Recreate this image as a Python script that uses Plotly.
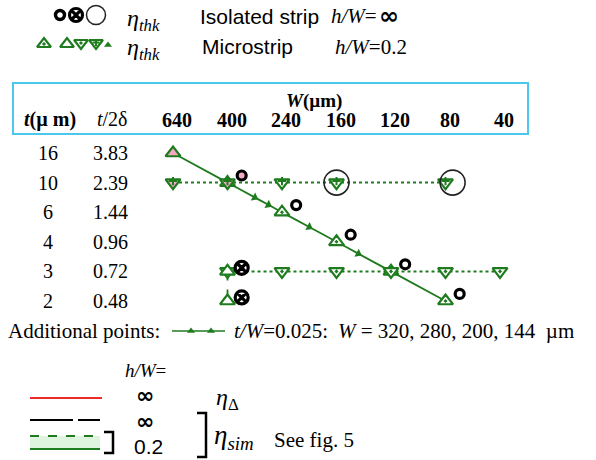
import numpy as np
import plotly.graph_objects as go

# ---------------- data ----------------
W_cols = [640, 400, 240, 160, 120, 80, 40]          # column headers W (um)
t_rows = [16, 10, 6, 4, 3, 2]                        # row headers t (um)
t_over_2delta = ["3.83", "2.39", "1.44", "0.96", "0.72", "0.48"]

# Microstrip h/W=0.2, path with t/W = 0.025 (main + additional points)
tw_W = [640, 400, 320, 280, 240, 200, 160, 144, 120, 80]
tw_t = [16, 10, 8, 7, 6, 5, 4, 3.6, 3, 2]
tw_additional_W = [320, 280, 200, 144]
tw_pink_W = [640, 400]

# Microstrip, row t = 10 (dotted)
row10_W = [640, 400, 240, 160, 80]
row10_t = [10, 10, 10, 10, 10]
# Microstrip, row t = 3 (dotted)
row3_W = [400, 240, 160, 120, 80, 40]
row3_t = [3, 3, 3, 3, 3, 3]
# Microstrip, column W = 400 (dashed)
col400_W = [400, 400]
col400_t = [3, 2]

# Isolated strip h/W = inf
iso_thick_W = [400, 240, 160, 120, 80]
iso_thick_t = [10, 6, 4, 3, 2]
iso_cross_W = [400, 400]
iso_cross_t = [3, 2]
iso_big_W = [160, 80]
iso_big_t = [10, 10]

# ---------------- layout constants ----------------
FIG_W, FIG_H = 596, 460
PX_COL0, PX_COLSTEP = 173, 54.5
PX_ROW0, PX_ROWSTEP = 153, 29.6
ISO_DX, ISO_DY = 0.26, -0.24
GREEN = "#1e7b1e"
PINK = "#f5a9c4"
SERIF = "Liberation Serif"
SANS = "Liberation Sans"
INF_FONT = "DejaVu Sans"

col_idx = np.arange(len(W_cols), dtype=float)
row_idx = np.arange(len(t_rows), dtype=float)


def xi(W):
    return np.interp(np.asarray(W, float), np.array(W_cols[::-1], float), col_idx[::-1])


def yi(t):
    return np.interp(np.asarray(t, float), np.array(t_rows[::-1], float), row_idx[::-1])


fig = go.Figure()

# t/W = 0.025 path line
px_x = xi(tw_W)
px_y = yi(tw_t)
fig.add_trace(go.Scatter(
    x=px_x, y=px_y, mode="lines",
    line=dict(color=GREEN, width=1.8, shape="spline", smoothing=0.7),
    hoverinfo="skip"))

# additional points: small triangles oriented along the path
is_add = np.isin(tw_W, tw_additional_W)
add_i = np.where(is_add)[0]
angles = []
for i in add_i:
    dx = (px_x[i + 1] - px_x[i - 1]) * PX_COLSTEP
    dy = (px_y[i + 1] - px_y[i - 1]) * PX_ROWSTEP
    angles.append(float(np.degrees(np.arctan2(dx, -dy))))
fig.add_trace(go.Scatter(
    x=px_x[add_i], y=px_y[add_i], mode="markers",
    marker=dict(symbol="triangle-up", size=8, color=GREEN, angle=angles, line=dict(width=0)),
    hoverinfo="skip"))

# row t=10 dotted
fig.add_trace(go.Scatter(x=xi(row10_W), y=yi(row10_t), mode="lines",
                         line=dict(color=GREEN, width=2, dash="dot"), hoverinfo="skip"))
# row t=3 dotted
fig.add_trace(go.Scatter(x=xi(row3_W), y=yi(row3_t), mode="lines",
                         line=dict(color=GREEN, width=2, dash="dot"), hoverinfo="skip"))
# column W=400 dashed
fig.add_trace(go.Scatter(x=xi(col400_W), y=yi(col400_t), mode="lines",
                         line=dict(color=GREEN, width=1.8, dash="dash"), hoverinfo="skip"))

# main t/W points (triangle-up)
mW = np.array(tw_W)[~is_add]
mt = np.array(tw_t)[~is_add]
pink_main = np.isin(mW, tw_pink_W)
fig.add_trace(go.Scatter(
    x=xi(mW), y=yi(mt), mode="markers",
    marker=dict(symbol=np.where(pink_main, "triangle-up", "triangle-up-dot"), size=13,
                color=np.where(pink_main, PINK, "white"), line=dict(color=GREEN, width=2.2)),
    hoverinfo="skip"))

# row 10 triangle-down with plus
pink_r10 = np.isin(row10_W, tw_pink_W)
fig.add_trace(go.Scatter(
    x=xi(row10_W), y=yi(row10_t), mode="markers",
    marker=dict(symbol="triangle-down", size=13,
                color=np.where(pink_r10, PINK, "white"), line=dict(color=GREEN, width=2.2)),
    hoverinfo="skip"))
fig.add_trace(go.Scatter(
    x=xi(row10_W), y=yi(row10_t) - 0.05, mode="markers",
    marker=dict(symbol="cross-thin", size=6, color=GREEN, line=dict(color=GREEN, width=2)),
    hoverinfo="skip"))

# row 3 triangle-down with dot
fig.add_trace(go.Scatter(
    x=xi(row3_W), y=yi(row3_t), mode="markers",
    marker=dict(symbol="triangle-down-dot", size=13, color="white",
                line=dict(color=GREEN, width=2.2)),
    hoverinfo="skip"))

# column 400 open triangle-up
fig.add_trace(go.Scatter(
    x=xi(col400_W), y=yi(col400_t), mode="markers",
    marker=dict(symbol="triangle-up", size=13, color="white",
                line=dict(color=GREEN, width=2.2)),
    hoverinfo="skip"))

# Isolated strip markers
pink_iso = np.isin(iso_thick_W, tw_pink_W)
fig.add_trace(go.Scatter(
    x=xi(iso_thick_W) + ISO_DX, y=yi(iso_thick_t) + ISO_DY, mode="markers",
    marker=dict(symbol="circle", size=9, color=np.where(pink_iso, PINK, "white"),
                line=dict(color="black", width=3.2)),
    hoverinfo="skip"))
fig.add_trace(go.Scatter(
    x=xi(iso_cross_W) + ISO_DX, y=yi(iso_cross_t) + ISO_DY * 0.5, mode="markers",
    marker=dict(symbol="circle-x", size=13, color="white",
                line=dict(color="black", width=3.2)),
    hoverinfo="skip"))
fig.add_trace(go.Scatter(
    x=xi(iso_big_W) + np.array([0, ISO_DX * 0.5]), y=yi(iso_big_t), mode="markers",
    marker=dict(symbol="circle", size=25, color="rgba(0,0,0,0)",
                line=dict(color="#222222", width=1.6)),
    hoverinfo="skip"))

# ---------------- legend / key (pixel overlay axes) ----------------
def key(x, y, **m):
    fig.add_trace(go.Scatter(x=[x], y=[y], mode="markers", marker=m,
                             xaxis="x2", yaxis="y2", hoverinfo="skip"))

key(60, 15, symbol="circle", size=9, color="white", line=dict(color="black", width=3.4))
key(76, 15, symbol="circle-x", size=13, color="white", line=dict(color="black", width=3.2))
key(96, 15, symbol="circle", size=19, color="rgba(0,0,0,0)", line=dict(color="#222222", width=1.5))
key(44, 44, symbol="triangle-up-dot", size=12, color="white", line=dict(color=GREEN, width=2.2))
key(67, 44, symbol="triangle-up", size=12, color="white", line=dict(color=GREEN, width=2.2))
key(81, 43, symbol="triangle-down-dot", size=12, color="white", line=dict(color=GREEN, width=2.2))
key(96, 43, symbol="triangle-down", size=12, color="white", line=dict(color=GREEN, width=2.2))
key(96, 42.5, symbol="cross-thin", size=5, color=GREEN, line=dict(color=GREEN, width=2))
key(108, 45, symbol="triangle-up", size=7, color=GREEN)

# Additional points key line
fig.add_trace(go.Scatter(x=[172, 225], y=[331, 331], mode="lines",
                         line=dict(color=GREEN, width=1.6),
                         xaxis="x2", yaxis="y2", hoverinfo="skip"))
fig.add_trace(go.Scatter(x=[191, 211], y=[331, 331], mode="markers",
                         marker=dict(symbol="triangle-up", size=7, color=GREEN),
                         xaxis="x2", yaxis="y2", hoverinfo="skip"))

shapes = [
    dict(type="rect", xref="x2", yref="y2", x0=13, y0=83, x1=528, y1=134,
         line=dict(color="#4cc8ee", width=2)),
    dict(type="line", xref="x2", yref="y2", x0=30, y0=398, x1=102, y1=398,
         line=dict(color="#ee2a2a", width=2)),
    dict(type="line", xref="x2", yref="y2", x0=30, y0=420, x1=100, y1=420,
         line=dict(color="black", width=2, dash="43px,5px")),
    dict(type="rect", xref="x2", yref="y2", x0=30, y0=436, x1=100, y1=449,
         fillcolor="#dff4df", line=dict(width=0), layer="below"),
    dict(type="line", xref="x2", yref="y2", x0=30, y0=436, x1=100, y1=436,
         line=dict(color=GREEN, width=2, dash="dash")),
    dict(type="line", xref="x2", yref="y2", x0=30, y0=449, x1=100, y1=449,
         line=dict(color=GREEN, width=2)),
    dict(type="path", xref="x2", yref="y2", path="M 104 432 L 113 432 L 113 453 L 104 453",
         line=dict(color="black", width=2.5)),
    dict(type="path", xref="x2", yref="y2", path="M 197 413 L 206 413 L 206 457 L 197 457",
         line=dict(color="black", width=2.5)),
]

ann = []


def txt(x, y, s, size=20, family=SERIF, anchor="center", xref="x2", yref="y2", **kw):
    ann.append(dict(x=x, y=y, xref=xref, yref=yref, text=s, showarrow=False,
                    xanchor=anchor, yanchor="middle",
                    font=dict(family=family, size=size, color="black"), **kw))


# top legend
txt(143, 20, "<i>η<sub>thk</sub></i>", 24)
txt(198, 16, "Isolated strip", 21, SANS, "left")
txt(329, 16, "<i>h/W</i>=", 21, SERIF, "left")
txt(377, 16, "<b>∞</b>", 24, INF_FONT, "left")
txt(143, 49, "<i>η<sub>thk</sub></i>", 24)
txt(200, 46, "Microstrip", 21, SANS, "left")
txt(333, 47, "<i>h/W</i>=0.2", 21, SERIF, "left")

# table header
txt(314, 101, "<b><i>W</i>(µm)</b>", 19)
txt(50, 119, "<b><i>t</i>(µ m)</b>", 20)
txt(112, 119, "<i>t</i>/2δ", 20)
for i, w in enumerate(W_cols):
    txt(col_idx[i], 120, f"<b>{w}</b>", 20, xref="x", xshift=4)
for j, (t, d) in enumerate(zip(t_rows, t_over_2delta)):
    txt(48, row_idx[j], str(t), 20, yref="y")
    txt(110, row_idx[j], d, 20, yref="y")

# additional points line
txt(6, 331, "Additional points:", 21, SERIF, "left")
txt(232, 331, "<i>t/W</i>=0.025:", 21, SERIF, "left")
txt(336, 331, "<i>W</i> = " + ", ".join(str(w) for w in tw_additional_W) + "  µm",
    21, SERIF, "left")

# bottom key
txt(145, 370, "<i>h/W</i>=", 19)
txt(145, 395, "<b>∞</b>", 22, INF_FONT)
txt(227, 399, "<i>η</i><sub>Δ</sub>", 24)
txt(145, 421, "<b>∞</b>", 22, INF_FONT)
txt(148, 446, "0.2", 21, SANS)
txt(234, 437, "<i>η<sub>sim</sub></i>", 27)
txt(272, 440, "See fig. 5", 21, SERIF, "left")

xr = [(0 - PX_COL0) / PX_COLSTEP, (FIG_W - PX_COL0) / PX_COLSTEP]
yr = [(FIG_H - PX_ROW0) / PX_ROWSTEP, (0 - PX_ROW0) / PX_ROWSTEP]

fig.update_layout(
    width=FIG_W, height=FIG_H, autosize=False,
    margin=dict(l=0, r=0, t=0, b=0, pad=0),
    paper_bgcolor="white", plot_bgcolor="white",
    showlegend=False,
    xaxis=dict(range=xr, visible=False, domain=[0, 1], fixedrange=True),
    yaxis=dict(range=yr, visible=False, domain=[0, 1], fixedrange=True),
    xaxis2=dict(range=[0, FIG_W], visible=False, overlaying="x", anchor="y2", fixedrange=True),
    yaxis2=dict(range=[FIG_H, 0], visible=False, overlaying="y", anchor="x2", fixedrange=True),
    shapes=shapes, annotations=ann,
)

fig.write_html("out.html")
